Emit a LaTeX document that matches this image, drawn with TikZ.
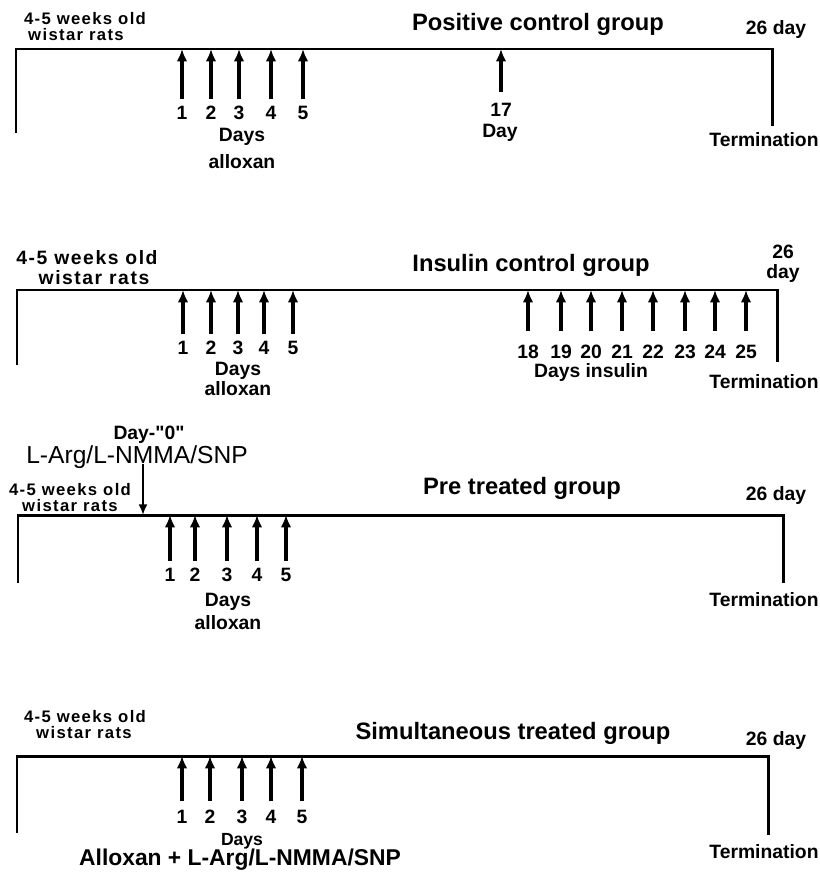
\documentclass[tikz,border=0pt]{standalone}
\usepackage{fontspec}
\setmainfont{Liberation Sans}
\newfontfamily\widefont[LetterSpace=8]{Liberation Sans}
\usetikzlibrary{arrows.meta}

\tikzset{
    tl/.style={line width=1.7pt, line join=miter},
    arr/.style={line width=1.8pt, shorten <=4pt, -{Latex[length=7pt,width=6pt]}},
    lbl/.style={font=\bfseries\fontsize{11}{12}\selectfont, inner sep=0pt},
    ratlbl/.style={font=\widefont\bfseries\fontsize{9.5}{10}\selectfont, inner sep=0pt},
    ttl/.style={font=\bfseries\fontsize{13.5}{15}\selectfont},
}

\begin{document}
\begin{tikzpicture}[x=0.02cm, y=-0.02cm]
    \useasboundingbox (0,0) rectangle (819,876);

    % Positive control group
    \node[ratlbl] (w1a) at (85,19) {4-5 weeks old};
    \node[ratlbl] (w1b) at (76,35) {wistar rats};
    \node[ttl] (t1) at (538,24) {Positive control group};
    \node[lbl] (e1) at (776,30) {26 day};
    \coordinate (p1s) at (16,133);
    \coordinate (p1l) at (16,49);
    \coordinate (p1r) at (772,49);
    \coordinate (p1e) at (772,126);
    \draw[tl] (p1s) -- (p1l) -- (p1r) -- (p1e);
    \foreach \x/\n in {182/1,211/2,239/3,271/4,303/5}{
        \node[lbl] (p1n\n) at (\x,113) {\n};
        \coordinate (p1u\n) at (\x,49);
        \draw[arr] (p1n\n) -- (p1u\n);
    }
    \node[lbl] (d1) at (242,137) {Days};
    \node[lbl] (x1) at (242,162) {alloxan};
    \node[lbl] (n17) at (501,110) {17};
    \coordinate (u17) at (501,49);
    \draw[arr, shorten <=6pt] (n17) -- (u17);
    \node[lbl] (dy1) at (500,133) {Day};
    \node[lbl] (m1) at (764,140) {Termination};

    % Insulin control group
    \node[ratlbl, font=\widefont\bfseries\fontsize{11}{11}\selectfont] (w2a) at (87,258) {4-5 weeks old};
    \node[ratlbl, font=\widefont\bfseries\fontsize{11}{11}\selectfont] (w2b) at (94,278) {wistar rats};
    \node[ttl] (t2) at (531,265) {Insulin control group};
    \node[lbl] (e2a) at (783,252) {26};
    \node[lbl] (e2b) at (783,273) {day};
    \coordinate (p2s) at (17,365);
    \coordinate (p2l) at (17,290);
    \coordinate (p2r) at (777,290);
    \coordinate (p2e) at (777,362);
    \draw[tl] (p2s) -- (p2l) -- (p2r) -- (p2e);
    \foreach \x/\n in {183/1,211/2,238/3,264/4,293/5}{
        \node[lbl] (p2n\n) at (\x,348) {\n};
        \coordinate (p2u\n) at (\x,290);
        \draw[arr] (p2n\n) -- (p2u\n);
    }
    \node[lbl] (d2) at (238,371) {Days};
    \node[lbl] (x2) at (238,389) {alloxan};
    \foreach \x/\n in {528/18,561/19,591/20,622/21,653/22,685/23,715/24,746/25}{
        \node[lbl] (q2n\n) at (\x,352) {\n};
        \coordinate (q2u\n) at (\x,290);
        \draw[arr, shorten <=8pt] (q2n\n) -- (q2u\n);
    }
    \node[lbl] (i2) at (591,372) {Days insulin};
    \node[lbl] (m2) at (764,382) {Termination};

    % Pre treated group
    \node[lbl] (z3a) at (149,435) {Day-\textquotedbl0\textquotedbl};
    \node[font=\fontsize{14}{16}\selectfont, inner sep=0pt] (z3b) at (137,457) {L-Arg/L-NMMA/SNP};
    \coordinate (z3t) at (143,464);
    \coordinate (z3u) at (143,515);
    \draw[line width=1.1pt, -{Latex[length=6pt,width=5pt]}] (z3t) -- (z3u);
    \node[ratlbl] (w3a) at (70,490) {4-5 weeks old};
    \node[ratlbl] (w3b) at (70,506) {wistar rats};
    \node[ttl] (t3) at (522,488) {Pre treated group};
    \node[lbl] (e3) at (776,495) {26 day};
    \coordinate (p3s) at (18,583);
    \coordinate (p3l) at (18,515);
    \coordinate (p3r) at (783,515);
    \coordinate (p3e) at (783,583);
    \draw[tl] (p3s) -- (p3l) -- (p3r) -- (p3e);
    \foreach \x/\n in {170/1,195/2,227/3,257/4,286/5}{
        \node[lbl] (p3n\n) at (\x,575) {\n};
        \coordinate (p3u\n) at (\x,515);
        \draw[arr] (p3n\n) -- (p3u\n);
    }
    \node[lbl] (d3) at (228,602) {Days};
    \node[lbl] (x3) at (228,623) {alloxan};
    \node[lbl] (m3) at (764,600) {Termination};

    % Simultaneous treated group
    \node[ratlbl] (w4a) at (85,717) {4-5 weeks old};
    \node[ratlbl] (w4b) at (84,733) {wistar rats};
    \node[ttl] (t4) at (513,733) {Simultaneous treated group};
    \node[lbl] (e4) at (776,740) {26 day};
    \coordinate (p4s) at (17,833);
    \coordinate (p4l) at (17,756);
    \coordinate (p4r) at (768,756);
    \coordinate (p4e) at (768,835);
    \draw[tl] (p4s) -- (p4l) -- (p4r) -- (p4e);
    \foreach \x/\n in {182/1,210/2,242/3,271/4,302/5}{
        \node[lbl] (p4n\n) at (\x,817) {\n};
        \coordinate (p4u\n) at (\x,756);
        \draw[arr, shorten <=5pt] (p4n\n) -- (p4u\n);
    }
    \node[lbl, font=\bfseries\fontsize{10}{11}\selectfont] (d4) at (242,841) {Days};
    \node[font=\bfseries\fontsize{13}{15}\selectfont, inner sep=0pt] (x4) at (240,860) {Alloxan + L-Arg/L-NMMA/SNP};
    \node[lbl] (m4) at (764,852) {Termination};
\end{tikzpicture}
\end{document}
